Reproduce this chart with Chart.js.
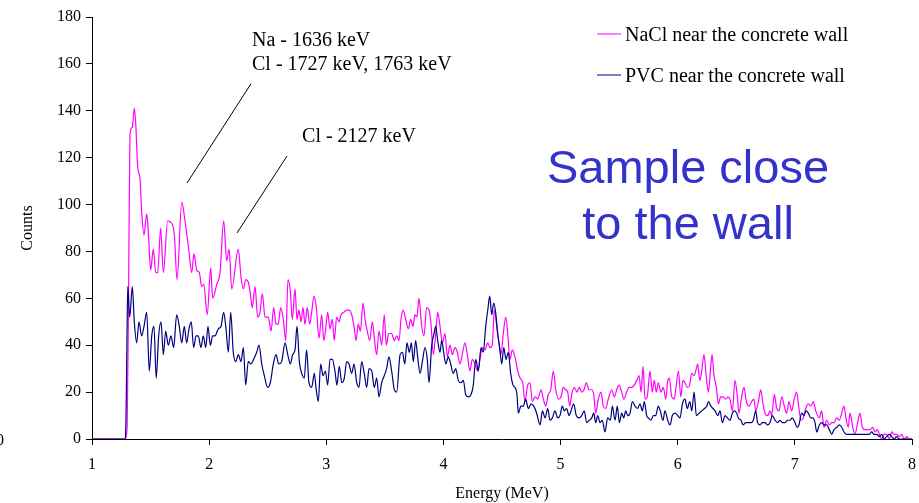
<!DOCTYPE html>
<html>
<head>
<meta charset="utf-8">
<script src="https://cdn.jsdelivr.net/npm/chart.js@4.4.1/dist/chart.umd.min.js"></script>
<style>
  html, body { margin: 0; padding: 0; background: #fff; }
  #wrap { width: 919px; height: 503px; }
</style>
</head>
<body>
<div id="wrap"><canvas id="c" width="919" height="503"></canvas></div>
<script>
// spectra: energy in MeV, counts per channel
const naclEnergy = [1.00, 1.28, 1.30, 1.312, 1.324, 1.344, 1.361, 1.373, 1.390, 1.410, 1.424, 1.444, 1.467, 1.481, 1.501, 1.523, 1.544, 1.561, 1.586, 1.609, 1.646, 1.680, 1.703, 1.726, 1.766, 1.794, 1.828, 1.851, 1.871, 1.894, 1.916, 1.936, 1.954, 1.984, 2.013, 2.030, 2.065, 2.093, 2.124, 2.150, 2.170, 2.193, 2.249, 2.272, 2.292, 2.312, 2.334, 2.349, 2.368, 2.392, 2.414, 2.434, 2.454, 2.477, 2.505, 2.528, 2.551, 2.571, 2.590, 2.611, 2.633, 2.654, 2.673, 2.693, 2.710, 2.733, 2.750, 2.767, 2.784, 2.801, 2.818, 2.838, 2.858, 2.875, 2.895, 2.915, 2.938, 2.961, 2.978, 2.995, 3.012, 3.032, 3.051, 3.068, 3.089, 3.109, 3.126, 3.149, 3.174, 3.197, 3.217, 3.237, 3.254, 3.273, 3.291, 3.314, 3.331, 3.350, 3.371, 3.393, 3.410, 3.430, 3.450, 3.473, 3.495, 3.512, 3.533, 3.558, 3.581, 3.601, 3.621, 3.638, 3.657, 3.678, 3.700, 3.721, 3.740, 3.757, 3.774, 3.791, 3.815, 3.834, 3.857, 3.877, 3.894, 3.914, 3.934, 3.951, 3.971, 3.991, 4.014, 4.033, 4.056, 4.076, 4.099, 4.119, 4.142, 4.161, 4.184, 4.204, 4.225, 4.247, 4.270, 4.293, 4.312, 4.332, 4.355, 4.378, 4.398, 4.417, 4.434, 4.455, 4.474, 4.491, 4.511, 4.532, 4.549, 4.568, 4.588, 4.611, 4.634, 4.654, 4.677, 4.696, 4.719, 4.739, 4.759, 4.782, 4.805, 4.833, 4.853, 4.873, 4.895, 4.916, 4.938, 4.959, 4.981, 5.004, 5.023, 5.044, 5.061, 5.078, 5.095, 5.117, 5.140, 5.160, 5.180, 5.200, 5.220, 5.243, 5.266, 5.283, 5.300, 5.322, 5.345, 5.365, 5.385, 5.407, 5.437, 5.459, 5.479, 5.499, 5.522, 5.541, 5.564, 5.584, 5.607, 5.629, 5.650, 5.670, 5.687, 5.704, 5.721, 5.740, 5.763, 5.783, 5.800, 5.817, 5.834, 5.857, 5.877, 5.898, 5.915, 5.928, 5.949, 5.971, 5.983, 6.006, 6.026, 6.045, 6.062, 6.083, 6.102, 6.119, 6.139, 6.154, 6.171, 6.188, 6.205, 6.224, 6.245, 6.262, 6.282, 6.293, 6.310, 6.330, 6.347, 6.367, 6.386, 6.410, 6.429, 6.446, 6.467, 6.489, 6.509, 6.523, 6.546, 6.566, 6.586, 6.609, 6.632, 6.651, 6.666, 6.689, 6.709, 6.728, 6.745, 6.768, 6.788, 6.802, 6.825, 6.845, 6.865, 6.888, 6.910, 6.930, 6.950, 6.973, 6.995, 7.015, 7.035, 7.052, 7.072, 7.093, 7.114, 7.137, 7.157, 7.178, 7.209, 7.229, 7.249, 7.272, 7.294, 7.315, 7.334, 7.357, 7.379, 7.400, 7.419, 7.436, 7.456, 7.471, 7.494, 7.513, 7.536, 7.556, 7.576, 7.599, 7.619, 7.642, 7.665, 7.684, 7.704, 7.721, 7.742, 7.761, 7.784, 7.806, 7.827, 7.847, 7.869, 7.892, 7.912, 7.932, 7.955, 7.974, 8.00]
const naclCounts = [0, 0, 5, 60, 130, 133, 141, 135, 116, 111, 97, 87, 96, 88, 72, 81, 71, 71, 90, 71, 93, 92, 87, 68, 101, 93, 80, 71, 79, 72, 71, 65, 66, 53, 73, 60, 66, 71, 93, 76, 81, 64, 81, 69, 64, 68, 67, 63, 56, 65, 52, 54, 62, 52, 52, 46, 56, 49, 49, 56, 51, 42, 68, 63, 51, 64, 51, 55, 50, 56, 49, 56, 49, 54, 61, 56, 43, 53, 42, 47, 54, 47, 51, 42, 52, 50, 53, 54, 55, 55, 53, 48, 42, 49, 46, 58, 51, 46, 42, 50, 43, 36, 46, 40, 53, 40, 45, 45, 42, 44, 42, 51, 55, 51, 47, 51, 48, 53, 52, 60, 48, 44, 56, 55, 49, 36, 45, 54, 48, 41, 45, 35, 40, 36, 39, 37, 32, 36, 41, 36, 29, 34, 32, 29, 34, 39, 38, 41, 39, 40, 55, 48, 41, 36, 45, 52, 45, 34, 38, 35, 29, 26, 24, 16, 23, 24, 16, 18, 17, 21, 17, 14, 19, 21, 29, 21, 17, 18, 22, 21, 20, 14, 19, 22, 20, 22, 20, 21, 24, 21, 21, 19, 11, 17, 20, 14, 13, 17, 21, 18, 21, 23, 20, 17, 20, 22, 22, 23, 25, 27, 20, 31, 17, 18, 29, 20, 25, 20, 24, 20, 22, 17, 25, 26, 18, 17, 21, 29, 18, 25, 24, 22, 23, 28, 27, 29, 32, 25, 29, 36, 26, 20, 31, 36, 27, 22, 15, 18, 18, 17, 18, 17, 12, 25, 18, 11, 18, 22, 16, 14, 16, 17, 12, 16, 21, 15, 11, 10, 12, 10, 19, 13, 12, 18, 14, 11, 16, 12, 17, 20, 13, 8, 9, 13, 15, 14, 16, 12, 9, 12, 5, 8, 6, 7, 7, 9, 8, 11, 14, 9, 5, 11, 5, 2, 7, 11, 5, 4, 4, 4, 5, 3, 4, 2, 0, 2, 2, 0, 3, 2, 2, 1, 2, 0, 1, 0, 0]

const pvcEnergy = [1.00, 1.28, 1.29, 1.298, 1.305, 1.322, 1.344, 1.361, 1.381, 1.401, 1.424, 1.444, 1.467, 1.489, 1.510, 1.529, 1.548, 1.569, 1.589, 1.609, 1.629, 1.651, 1.674, 1.697, 1.723, 1.745, 1.766, 1.788, 1.808, 1.828, 1.847, 1.868, 1.888, 1.907, 1.930, 1.950, 1.971, 1.990, 2.010, 2.030, 2.050, 2.078, 2.101, 2.124, 2.144, 2.164, 2.184, 2.206, 2.227, 2.249, 2.272, 2.292, 2.312, 2.334, 2.357, 2.380, 2.406, 2.426, 2.449, 2.471, 2.500, 2.522, 2.548, 2.571, 2.594, 2.619, 2.648, 2.671, 2.693, 2.713, 2.733, 2.750, 2.770, 2.790, 2.812, 2.832, 2.852, 2.875, 2.898, 2.912, 2.932, 2.952, 2.972, 2.992, 3.012, 3.032, 3.051, 3.074, 3.091, 3.111, 3.132, 3.154, 3.174, 3.194, 3.217, 3.237, 3.260, 3.279, 3.302, 3.324, 3.345, 3.365, 3.388, 3.410, 3.430, 3.450, 3.473, 3.495, 3.515, 3.535, 3.558, 3.581, 3.601, 3.630, 3.650, 3.670, 3.689, 3.709, 3.726, 3.743, 3.763, 3.780, 3.800, 3.820, 3.843, 3.862, 3.877, 3.900, 3.920, 3.934, 3.951, 3.971, 3.985, 4.002, 4.020, 4.042, 4.062, 4.084, 4.105, 4.127, 4.150, 4.170, 4.190, 4.213, 4.236, 4.255, 4.276, 4.298, 4.321, 4.340, 4.361, 4.381, 4.395, 4.412, 4.429, 4.446, 4.463, 4.480, 4.498, 4.515, 4.534, 4.554, 4.574, 4.594, 4.611, 4.628, 4.639, 4.662, 4.682, 4.702, 4.725, 4.748, 4.771, 4.796, 4.825, 4.845, 4.868, 4.890, 4.910, 4.930, 4.953, 4.975, 4.995, 5.015, 5.032, 5.052, 5.072, 5.089, 5.112, 5.134, 5.157, 5.180, 5.202, 5.223, 5.245, 5.266, 5.283, 5.300, 5.317, 5.337, 5.356, 5.379, 5.402, 5.425, 5.442, 5.465, 5.484, 5.502, 5.522, 5.539, 5.556, 5.573, 5.593, 5.613, 5.636, 5.658, 5.678, 5.698, 5.715, 5.735, 5.749, 5.772, 5.792, 5.812, 5.834, 5.851, 5.874, 5.891, 5.914, 5.934, 5.954, 5.977, 6.000, 6.020, 6.040, 6.062, 6.082, 6.103, 6.120, 6.140, 6.159, 6.182, 6.205, 6.228, 6.248, 6.262, 6.283, 6.302, 6.319, 6.342, 6.361, 6.381, 6.404, 6.424, 6.447, 6.466, 6.483, 6.504, 6.517, 6.540, 6.560, 6.580, 6.603, 6.626, 6.645, 6.666, 6.682, 6.703, 6.722, 6.745, 6.768, 6.788, 6.808, 6.831, 6.854, 6.873, 6.893, 6.916, 6.939, 6.958, 6.978, 7.001, 7.018, 7.035, 7.058, 7.078, 7.095, 7.115, 7.136, 7.152, 7.172, 7.186, 7.209, 7.229, 7.249, 7.272, 7.294, 7.315, 7.334, 7.357, 7.379, 7.400, 7.419, 7.442, 7.465, 7.485, 7.504, 7.527, 7.550, 7.570, 7.590, 7.613, 7.635, 7.656, 7.675, 7.698, 7.721, 7.742, 7.761, 7.784, 7.806, 7.827, 7.847, 7.869, 7.892, 7.915, 7.949, 8.00]
const pvcCounts = [0, 0, 8, 40, 65, 52, 65, 50, 41, 50, 44, 48, 54, 29, 44, 48, 26, 44, 50, 36, 46, 40, 44, 39, 53, 48, 41, 48, 41, 47, 50, 39, 44, 44, 39, 44, 39, 48, 40, 44, 44, 47, 48, 54, 47, 37, 54, 37, 33, 36, 33, 39, 23, 33, 32, 34, 37, 40, 32, 27, 22, 24, 32, 36, 32, 33, 41, 36, 32, 36, 38, 48, 33, 28, 26, 38, 24, 22, 28, 22, 16, 32, 27, 29, 23, 34, 34, 29, 23, 31, 24, 26, 33, 32, 28, 32, 24, 22, 33, 28, 22, 30, 29, 22, 26, 18, 24, 27, 30, 35, 29, 21, 20, 36, 37, 32, 41, 37, 41, 33, 42, 35, 28, 33, 39, 34, 24, 40, 45, 48, 42, 37, 42, 37, 32, 35, 32, 28, 30, 25, 24, 25, 19, 18, 19, 23, 34, 29, 39, 37, 48, 56, 61, 53, 58, 54, 45, 39, 32, 39, 34, 37, 28, 23, 22, 19, 11, 14, 14, 17, 13, 15, 14, 11, 6, 12, 9, 13, 8, 9, 12, 9, 10, 14, 12, 13, 10, 12, 15, 10, 9, 10, 12, 7, 8, 9, 11, 7, 10, 7, 8, 3, 9, 8, 14, 8, 14, 7, 11, 9, 12, 10, 11, 16, 14, 13, 15, 12, 16, 10, 9, 8, 10, 10, 14, 12, 8, 12, 8, 6, 10, 11, 10, 9, 15, 17, 13, 16, 12, 20, 10, 11, 12, 13, 14, 16, 14, 13, 12, 10, 12, 7, 10, 9, 8, 11, 12, 11, 9, 8, 6, 7, 7, 7, 8, 12, 7, 6, 7, 7, 6, 7, 10, 8, 7, 8, 7, 7, 8, 8, 9, 7, 5, 6, 11, 10, 12, 11, 9, 9, 7, 3, 6, 7, 6, 6, 4, 2, 4, 5, 6, 5, 3, 2, 2, 2, 2, 2, 2, 2, 2, 2, 2, 3, 2, 2, 1, 2, 0, 1, 2, 1, 0, 1, 0, 0, 0, 0]

const seriesNames = ['NaCl near the concrete wall', 'PVC near the concrete wall']
const seriesColors = ['#FF00FF', '#000080']
const yTicks = [0, 20, 40, 60, 80, 100, 120, 140, 160, 180]
const xTicks = [1, 2, 3, 4, 5, 6, 7, 8]

// text notes placed in data units (energy, counts)
const peakNotes = [
    {text: 'Na - 1636 keV', x: 2.366, y: 169.8},
    {text: 'Cl - 1727 keV, 1763 keV', x: 2.366, y: 159.6},
    {text: 'Cl - 2127 keV', x: 2.793, y: 128.8}
]
const leaders = [
    [2.357, 151.5, 1.811, 109.2],
    [2.665, 120.7, 2.238, 87.9]
]

const serif = '"Liberation Serif", "Times New Roman", serif'

function toPoints(xs, ys) {
    return xs.map((x, i) => ({x: x, y: ys[i]}))
}

const overlay = {
    id: 'overlay',
    afterDraw(chart) {
        const ctx = chart.ctx
        const sx = chart.scales.x
        const sy = chart.scales.y
        ctx.save()
        ctx.fillStyle = '#000'
        ctx.strokeStyle = '#000'
        ctx.lineWidth = 1
        ctx.textBaseline = 'middle'
        ctx.textAlign = 'left'
        ctx.font = '20px ' + serif
        peakNotes.forEach(n => {
            ctx.fillText(n.text, sx.getPixelForValue(n.x), sy.getPixelForValue(n.y))
        })
        leaders.forEach(l => {
            ctx.beginPath()
            ctx.moveTo(sx.getPixelForValue(l[0]), sy.getPixelForValue(l[1]))
            ctx.lineTo(sx.getPixelForValue(l[2]), sy.getPixelForValue(l[3]))
            ctx.stroke()
        })

        // legend
        const legendRows = [36, 77]
        seriesNames.forEach((name, i) => {
            ctx.strokeStyle = seriesColors[i]
            ctx.beginPath()
            ctx.moveTo(597, legendRows[i] - 2)
            ctx.lineTo(621, legendRows[i] - 2)
            ctx.stroke()
            ctx.fillStyle = '#000'
            ctx.fillText(name, 625, legendRows[i])
        })

        // big caption
        ctx.fillStyle = '#3333CC'
        ctx.textAlign = 'center'
        ctx.font = '47px "Liberation Sans", Arial, sans-serif'
        const cx = sx.getPixelForValue(6.088)
        ctx.fillText('Sample close', cx, sy.getPixelForValue(114.8))
        ctx.fillText('to the wall', cx, sy.getPixelForValue(90.9))

        // clipped leftover label at the left border
        ctx.fillStyle = '#000'
        ctx.font = '16px ' + serif
        ctx.fillText('0', 0, 441)
        ctx.restore()
    }
}

const ctx = document.getElementById('c')
new Chart(ctx, {
    type: 'line',
    data: {
        datasets: [
            {
                label: seriesNames[1],
                data: toPoints(pvcEnergy, pvcCounts),
                borderColor: seriesColors[1],
                borderWidth: 1.2,
                pointRadius: 0,
                cubicInterpolationMode: 'monotone',
                fill: false
            },
            {
                label: seriesNames[0],
                data: toPoints(naclEnergy, naclCounts),
                borderColor: seriesColors[0],
                borderWidth: 1.2,
                pointRadius: 0,
                cubicInterpolationMode: 'monotone',
                fill: false
            }
        ]
    },
    options: {
        responsive: false,
        animation: false,
        events: [],
        layout: {padding: {left: 0, top: 17, right: 0, bottom: 0}},
        plugins: {
            legend: {display: false},
            tooltip: {enabled: false}
        },
        scales: {
            x: {
                type: 'linear',
                min: 1,
                max: 8,
                afterFit: s => { s.height = 64; s.paddingRight = 7 },
                afterBuildTicks: s => { s.ticks = xTicks.map(v => ({value: v})) },
                grid: {display: true, drawOnChartArea: false, drawTicks: true, tickLength: 6, color: '#000'},
                border: {color: '#000', width: 1},
                ticks: {color: '#000', padding: 10, font: {family: serif, size: 16}},
                title: {display: true, text: 'Energy (MeV)', color: '#000', font: {family: serif, size: 16}, padding: {top: 2, bottom: 0}}
            },
            y: {
                min: 0,
                max: 180,
                afterFit: s => { s.width = 92 },
                afterBuildTicks: s => { s.ticks = yTicks.map(v => ({value: v})) },
                grid: {display: true, drawOnChartArea: false, drawTicks: true, tickLength: 6, color: '#000'},
                border: {color: '#000', width: 1},
                ticks: {color: '#000', padding: 5, font: {family: serif, size: 16}},
                title: {display: true, text: 'Counts', color: '#000', font: {family: serif, size: 16}, padding: {top: 18, bottom: 0}}
            }
        }
    },
    plugins: [overlay]
})
</script>
</body>
</html>
